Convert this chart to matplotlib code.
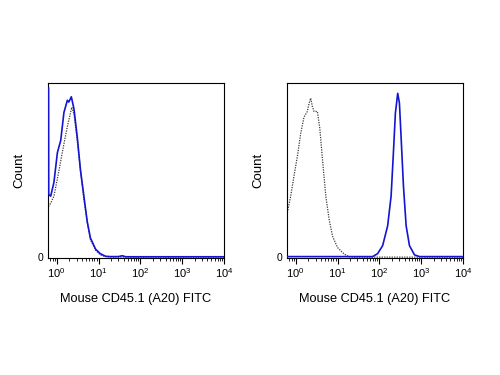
import matplotlib
matplotlib.use("Agg")
import matplotlib.pyplot as plt
from matplotlib.ticker import LogLocator, NullFormatter, FixedLocator

plt.rcParams['font.family'] = ['Liberation Sans', 'DejaVu Sans']

# Left panel: isotype/unstained (dotted) vs stained (blue)
left_dot_x = [0.64, 0.72, 0.86, 1.14, 1.49, 1.8, 2.3, 2.6, 3.1, 3.7, 4.47, 5.4, 6.4, 8.5, 11, 14.7, 20, 40, 10000]
left_dot_y = [29, 31, 35, 50, 65, 75, 86, 82, 67, 50, 33, 20, 10, 4, 1.3, 0.3, 0, 0, 0]
left_blue_x = [0.64, 0.645, 0.72, 0.86, 1.04, 1.25, 1.49, 1.8, 1.95, 2.24, 2.59, 3.1, 3.7, 4.47, 5.4, 6.4, 8.5, 11, 14.7, 19, 30, 36.7, 45, 10000]
left_blue_y = [97, 36, 35, 43, 60, 67, 83, 90, 89, 92, 85, 69, 50, 35, 20, 11, 4.6, 2, 0.5, 0.3, 0.3, 0.8, 0.2, 0.2]

# Right panel
right_dot_x = [0.63, 0.76, 0.91, 1.1, 1.32, 1.58, 1.9, 2.09, 2.29, 2.5, 2.75, 3.3, 3.77, 4.37, 5.25, 6.3, 7.6, 10, 14.5, 19, 25, 10000]
right_dot_y = [25.5, 35, 46.5, 58, 71, 80.4, 83.6, 88.4, 91.2, 86.5, 83.6, 83.6, 74, 56, 35, 21.7, 12, 5.5, 1.7, 0.2, 0, 0]
right_blue_x = [0.63, 69, 91, 120, 158, 191, 217, 242, 275, 302, 331, 377, 437, 525, 692, 912, 10000]
right_blue_y = [0.3, 0.3, 2, 6.6, 18, 35, 60, 82.7, 94, 88.4, 69, 40.8, 18, 6.6, 1.3, 0.3, 0.3]

xlabel = "Mouse CD45.1 (A20) FITC"
ylabel = "Count"
xlim = (0.62, 10000)

fig = plt.figure(figsize=(5, 3.75), dpi=100)
axes = [fig.add_axes([0.096, 0.312, 0.352, 0.467]),
        fig.add_axes([0.574, 0.312, 0.352, 0.467])]

panels = [(left_dot_x, left_dot_y, left_blue_x, left_blue_y),
          (right_dot_x, right_dot_y, right_blue_x, right_blue_y)]

for ax, (dx, dy, bx, by) in zip(axes, panels):
    ax.plot(dx, dy, color='#3a3a3a', linestyle=(0, (1, 1)), linewidth=0.9)
    ax.plot(bx, by, color='#1414d2', linewidth=1.2, zorder=3)
    ax.set_xscale('log')
    ax.set_xlim(*xlim)
    ax.set_ylim(-0.5, 100)
    ax.xaxis.set_major_locator(LogLocator(base=10, numticks=10))
    ax.xaxis.set_minor_locator(LogLocator(base=10, subs=range(2, 10), numticks=20))
    ax.xaxis.set_minor_formatter(NullFormatter())
    ax.yaxis.set_major_locator(FixedLocator([0]))
    ax.set_yticklabels(['0'])
    ax.tick_params(axis='x', which='major', length=4, width=0.8, labelsize=8, pad=2, colors='black')
    ax.tick_params(axis='x', which='minor', length=2, width=0.6)
    ax.tick_params(axis='y', which='major', length=0, labelsize=7.5, pad=3)
    for s in ax.spines.values():
        s.set_linewidth(0.8)
    ax.set_xlabel(xlabel, fontsize=9.2, labelpad=9)
    ax.set_ylabel(ylabel, fontsize=9.5, labelpad=9)

fig.savefig("out.png", dpi=100)
